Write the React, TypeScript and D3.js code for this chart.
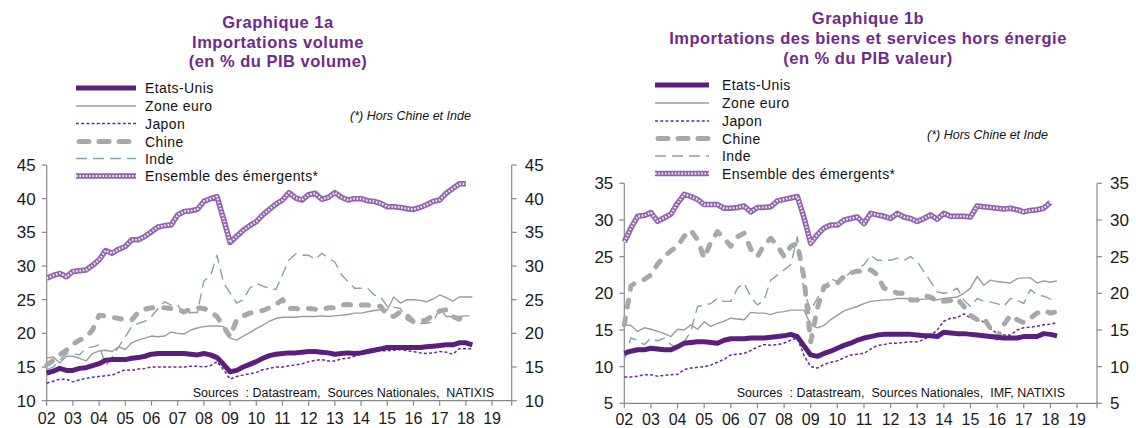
import { useEffect, useRef } from 'react';
import * as d3 from 'd3';

// ---- data (quarterly, first point = 2002 Q1) ----
const YEAR_LABELS = ['02', '03', '04', '05', '06', '07', '08', '09', '10', '11', '12', '13', '14', '15', '16', '17', '18', '19'];
const SERIES_NAMES = ['Etats-Unis', 'Zone euro', 'Japon', 'Chine', 'Inde', 'Ensemble des émergents*'];

// Graphique 1a : importations volume (% PIB volume)
const volUS = [14.1, 14.4, 14.8, 14.5, 14.5, 14.8, 14.9, 15.2, 15.5, 16.0, 16.1, 16.1, 16.1, 16.3, 16.4, 16.6, 16.9, 17.0, 17.0, 17.0, 17.0, 17.0, 16.9, 16.8, 17.0, 16.8, 16.4, 15.4, 14.3, 14.5, 15.0, 15.4, 15.8, 16.3, 16.7, 16.9, 17.0, 17.1, 17.1, 17.2, 17.3, 17.3, 17.2, 17.1, 16.9, 17.0, 17.1, 17.0, 17.1, 17.3, 17.5, 17.7, 17.9, 17.9, 17.9, 17.9, 17.9, 17.9, 18.0, 18.1, 18.2, 18.3, 18.3, 18.6, 18.6, 18.3];
const volEuro = [16.3, 16.5, 15.6, 16.6, 16.6, 16.3, 15.9, 17.0, 17.4, 17.5, 17.3, 18.0, 17.6, 18.6, 19.0, 19.3, 19.6, 19.5, 19.6, 20.2, 20.0, 19.9, 20.5, 20.8, 21.0, 21.1, 21.1, 21.0, 19.3, 19.0, 19.6, 20.1, 20.7, 21.2, 21.8, 22.2, 22.4, 22.4, 22.4, 22.5, 22.5, 22.5, 22.6, 22.5, 22.6, 22.7, 22.8, 23.0, 23.0, 23.2, 23.4, 23.5, 23.5, 25.4, 24.5, 25.0, 25.0, 24.9, 24.7, 25.1, 25.7, 25.3, 24.8, 25.4, 25.4, 25.4];
const volJapon = [12.6, 12.9, 13.2, 13.2, 12.8, 13.1, 13.3, 13.5, 13.6, 13.7, 13.8, 14.2, 14.6, 14.5, 14.7, 14.8, 15.0, 15.0, 15.0, 15.0, 15.0, 15.0, 15.1, 15.1, 15.0, 15.2, 15.8, 14.6, 13.2, 13.6, 13.8, 14.0, 14.2, 14.6, 14.8, 15.0, 15.0, 15.2, 15.3, 15.5, 15.8, 16.0, 16.1, 15.9, 15.9, 16.2, 16.3, 16.6, 16.9, 17.2, 17.5, 17.4, 17.4, 17.5, 17.6, 17.4, 17.3, 17.1, 17.0, 17.1, 17.3, 17.2, 16.9, 17.7, 17.7, 17.7];
const volChine = [15.3, 16.0, 16.8, 17.5, 18.4, 19.0, 19.4, 20.5, 22.7, 22.6, 22.4, 22.2, 22.0, 22.0, 23.2, 23.6, 23.8, 23.8, 23.8, 23.7, 23.5, 23.2, 23.6, 23.8, 23.7, 23.2, 22.5, 21.0, 19.5, 22.0, 22.6, 23.0, 23.2, 23.4, 23.8, 24.3, 25.0, 23.7, 23.7, 23.6, 23.7, 23.6, 23.5, 23.8, 23.8, 24.2, 24.3, 24.2, 24.2, 24.2, 24.1, 24.0, 22.7, 22.5, 23.2, 22.7, 21.7, 21.8, 22.0, 22.7, 23.3, 23.5, 22.5, 22.1, 23.5];
const volInde = [14.6, 15.0, 16.0, 17.0, 17.0, 16.8, 17.8, 18.0, 18.3, 15.2, 16.5, 18.0, 19.5, 21.0, 21.5, 21.8, 22.5, 23.7, 24.7, 24.2, 24.2, 22.7, 23.1, 23.1, 27.8, 28.5, 31.6, 27.5, 26.0, 24.5, 25.0, 26.7, 27.4, 27.0, 26.7, 26.5, 28.7, 30.9, 31.8, 31.6, 31.6, 31.0, 31.9, 31.2, 30.6, 28.7, 27.7, 26.7, 26.7, 26.7, 25.7, 25.4, 24.0, 23.9, 23.7, 22.0, 21.5, 21.5, 21.5, 21.7, 23.7, 22.5, 22.5, 22.5, 22.6, 22.6];
const volEmergents = [28.2, 28.6, 28.9, 28.4, 29.2, 29.3, 29.4, 30.1, 30.9, 32.3, 31.9, 32.5, 32.9, 33.9, 33.9, 34.4, 35.1, 35.8, 36.0, 36.1, 37.6, 38.1, 38.2, 38.4, 39.6, 40.0, 40.3, 37.0, 33.5, 34.4, 35.3, 36.0, 36.6, 37.6, 38.4, 39.2, 39.8, 40.9, 40.1, 39.8, 40.6, 40.8, 39.9, 40.2, 40.9, 40.2, 39.8, 40.0, 40.0, 39.7, 39.6, 39.3, 38.8, 38.8, 38.7, 38.5, 38.4, 38.7, 39.1, 39.6, 39.8, 40.8, 41.5, 42.2, 42.2];

// Graphique 1b : biens et services hors énergie (% PIB valeur)
const valUS = [11.8, 12.1, 12.3, 12.3, 12.5, 12.4, 12.3, 12.3, 12.7, 13.2, 13.3, 13.4, 13.4, 13.3, 13.2, 13.6, 13.8, 13.8, 13.8, 13.9, 13.9, 13.9, 14.0, 14.1, 14.2, 14.4, 14.1, 12.8, 11.6, 11.4, 11.8, 12.1, 12.5, 12.9, 13.2, 13.6, 13.9, 14.1, 14.3, 14.4, 14.4, 14.4, 14.4, 14.4, 14.3, 14.2, 14.2, 14.1, 14.7, 14.6, 14.5, 14.5, 14.4, 14.3, 14.2, 14.1, 14.0, 13.9, 13.9, 13.9, 14.1, 14.1, 14.1, 14.5, 14.4, 14.2];
const valEuro = [15.7, 15.6, 14.8, 15.3, 15.1, 14.8, 14.5, 14.1, 15.1, 15.0, 15.7, 15.1, 16.1, 15.5, 15.9, 16.2, 16.6, 16.5, 16.4, 17.4, 17.3, 17.3, 17.1, 17.4, 17.5, 17.7, 17.7, 17.7, 15.7, 15.3, 15.6, 16.4, 17.0, 17.6, 17.9, 18.2, 18.6, 18.9, 19.0, 19.1, 19.1, 19.3, 19.3, 19.3, 19.1, 19.2, 19.2, 19.1, 19.3, 19.4, 19.5, 20.0, 20.7, 22.3, 21.1, 21.8, 21.6, 21.5, 21.4, 22.0, 22.1, 22.1, 21.4, 21.7, 21.5, 21.7];
const valJapon = [8.6, 8.6, 8.7, 8.9, 8.9, 8.7, 8.8, 8.9, 8.95, 9.6, 9.8, 9.9, 10.0, 10.2, 10.6, 11.0, 11.6, 11.7, 11.8, 12.2, 12.7, 13.0, 12.9, 13.0, 13.2, 13.6, 13.9, 11.5, 10.0, 9.8, 10.3, 10.6, 10.8, 11.2, 11.6, 11.7, 11.8, 12.4, 12.9, 13.0, 13.2, 13.2, 13.3, 13.4, 13.4, 13.7, 14.2, 15.0, 16.2, 16.6, 16.7, 17.2, 16.6, 16.4, 16.1, 15.2, 14.5, 14.3, 14.3, 15.0, 15.3, 15.4, 15.5, 15.7, 15.8, 16.0];
const valChine = [15.7, 21.0, 21.6, 21.9, 22.5, 24.0, 25.0, 25.8, 26.4, 27.8, 28.6, 27.3, 24.8, 27.0, 28.4, 27.5, 26.4, 27.7, 28.2, 26.0, 25.0, 26.6, 27.5, 26.5, 25.0, 26.4, 26.8, 22.0, 13.4, 18.0, 20.9, 21.2, 21.4, 22.3, 22.8, 23.0, 23.0, 23.2, 22.5, 20.7, 20.5, 20.0, 20.0, 19.1, 19.1, 19.7, 19.5, 18.9, 18.9, 19.0, 19.3, 18.2, 17.0, 16.4, 16.6, 15.2, 13.9, 15.7, 17.0, 16.4, 16.0, 16.6, 17.3, 17.7, 17.3, 17.5, 17.4];
const valInde = [11.0, 13.9, 13.6, 13.0, 13.9, 13.5, 13.9, 13.0, 12.5, 13.4, 14.8, 18.2, 18.4, 18.6, 19.3, 18.9, 18.9, 20.7, 21.4, 19.5, 18.4, 19.1, 21.8, 22.5, 23.2, 23.9, 27.7, 20.2, 17.7, 19.3, 20.7, 22.0, 21.6, 22.0, 22.9, 23.3, 23.9, 25.2, 24.5, 24.5, 24.5, 24.8, 24.5, 25.0, 24.3, 23.0, 21.6, 20.2, 20.0, 20.2, 20.7, 19.1, 18.2, 19.3, 18.9, 18.8, 18.6, 18.2, 19.3, 19.1, 18.6, 20.5, 19.8, 19.6, 19.2, 19.2];
const valEmergents = [27.0, 28.9, 30.5, 30.6, 31.0, 29.8, 30.3, 30.8, 32.3, 33.5, 33.2, 32.8, 32.1, 32.1, 32.1, 31.6, 31.6, 31.7, 31.9, 31.1, 31.7, 31.7, 31.8, 32.6, 32.8, 33.0, 33.2, 30.3, 26.8, 28.0, 28.9, 29.3, 29.3, 30.0, 30.2, 30.4, 29.5, 30.9, 30.7, 30.5, 30.2, 30.9, 30.4, 30.2, 29.8, 30.2, 30.7, 30.1, 30.9, 30.5, 30.5, 30.5, 30.4, 31.9, 31.8, 31.7, 31.6, 31.5, 31.6, 31.4, 31.1, 31.3, 31.4, 31.6, 32.4];

const volTicks = [10, 15, 20, 25, 30, 35, 40, 45];
const valTicks = [5, 10, 15, 20, 25, 30, 35];

// ---- styles ----
const PURPLE = '#6F2A8C';
const AXIS = '#888888';
const FONT = '"Liberation Sans", Arial, sans-serif';

type Style = { color: string; width: number; dash?: string; cap?: string; chain?: boolean };
const STYLES: Style[] = [
  { color: '#5B1E7C', width: 5 },
  { color: '#9B9B9B', width: 1.4 },
  { color: '#6A2A8E', width: 1.5, dash: '3 2.2' },
  { color: '#A8A8A8', width: 5, dash: '7 11', cap: 'round' },
  { color: '#7FA3B7', width: 1.4, dash: '11 6' },
  { color: '#9263AE', width: 5.5, chain: true },
];

type ChartCfg = {
  series: number[][];
  yDomain: [number, number];
  yTicks: number[];
  x0: number; x1: number; yTop: number; yBot: number;
  title: string[]; titleX: number; titleY: number[];
  legX0: number; legX1: number; legTextX: number; legY: number[];
  noteX: number; noteY: number;
  source: string; sourceX: number; sourceY: number;
  xLabelY: number;
};

const CHARTS: ChartCfg[] = [
  {
    series: [volUS, volEuro, volJapon, volChine, volInde, volEmergents],
    yDomain: [10, 45], yTicks: volTicks,
    x0: 46.7, x1: 511.7, yTop: 165, yBot: 400.7,
    title: ['Graphique 1a', 'Importations volume', '(en % du PIB volume)'],
    titleX: 278, titleY: [28, 47.5, 67],
    legX0: 76, legX1: 136, legTextX: 145, legY: [88, 106, 123.5, 141.5, 158.5, 176],
    noteX: 350, noteY: 120,
    source: 'Sources  : Datastream,  Sources Nationales,  NATIXIS', sourceX: 494, sourceY: 397,
    xLabelY: 424,
  },
  {
    series: [valUS, valEuro, valJapon, valChine, valInde, valEmergents],
    yDomain: [5, 35], yTicks: valTicks,
    x0: 624.3, x1: 1097, yTop: 183.3, yBot: 403.3,
    title: ['Graphique 1b', 'Importations des biens et services hors énergie', '(en % du PIB valeur)'],
    titleX: 868, titleY: [24, 44, 64],
    legX0: 655, legX1: 709, legTextX: 722, legY: [85, 103, 121, 138.5, 156, 173.5],
    noteX: 927, noteY: 139,
    source: 'Sources  : Datastream,  Sources Nationales,  IMF, NATIXIS', sourceX: 1065, sourceY: 397,
    xLabelY: 425,
  },
];

function strokePath(sel: d3.Selection<SVGPathElement, unknown, null, undefined>, s: Style) {
  sel.attr('fill', 'none')
    .attr('stroke', s.color)
    .attr('stroke-width', s.width)
    .attr('stroke-linejoin', 'round')
    .attr('stroke-linecap', s.cap ?? 'butt');
  if (s.dash) sel.attr('stroke-dasharray', s.dash);
}

function drawChart(svg: d3.Selection<SVGSVGElement, unknown, null, undefined>, c: ChartCfg) {
  const g = svg.append('g');
  const x = d3.scaleLinear().domain([2002, 2019.75]).range([c.x0, c.x1]);
  const y = d3.scaleLinear().domain(c.yDomain).range([c.yBot, c.yTop]);

  // title
  c.title.forEach((t, i) => {
    g.append('text').attr('x', c.titleX).attr('y', c.titleY[i])
      .attr('text-anchor', 'middle').attr('font-family', FONT).attr('font-weight', 'bold')
      .attr('font-size', 16.5).attr('letter-spacing', 0.5).attr('fill', PURPLE).text(t);
  });

  // axes
  const axisG = g.append('g').attr('stroke', AXIS).attr('stroke-width', 1.2);
  axisG.append('line').attr('x1', c.x0).attr('x2', c.x0).attr('y1', c.yTop).attr('y2', c.yBot);
  axisG.append('line').attr('x1', c.x1).attr('x2', c.x1).attr('y1', c.yTop).attr('y2', c.yBot);
  axisG.append('line').attr('x1', c.x0).attr('x2', c.x1).attr('y1', c.yBot).attr('y2', c.yBot);
  c.yTicks.forEach((v) => {
    axisG.append('line').attr('x1', c.x0 - 5).attr('x2', c.x0).attr('y1', y(v)).attr('y2', y(v));
    axisG.append('line').attr('x1', c.x1).attr('x2', c.x1 + 5).attr('y1', y(v)).attr('y2', y(v));
    g.append('text').attr('x', c.x0 - 11).attr('y', y(v) + 6).attr('text-anchor', 'end')
      .attr('font-family', FONT).attr('font-size', 17).attr('fill', '#1a1a1a').text(String(v));
    g.append('text').attr('x', c.x1 + 13).attr('y', y(v) + 6).attr('text-anchor', 'start')
      .attr('font-family', FONT).attr('font-size', 17).attr('fill', '#1a1a1a').text(String(v));
  });
  YEAR_LABELS.forEach((lab, i) => {
    const xx = x(2002 + i);
    axisG.append('line').attr('x1', xx).attr('x2', xx).attr('y1', c.yBot).attr('y2', c.yBot + 5);
    g.append('text').attr('x', xx).attr('y', c.xLabelY).attr('text-anchor', 'middle')
      .attr('font-family', FONT).attr('font-size', 16).attr('fill', '#1a1a1a').text(lab);
  });
  axisG.append('line').attr('x1', c.x1).attr('x2', c.x1).attr('y1', c.yBot).attr('y2', c.yBot + 5);

  // series
  const line = d3.line<number>().x((_, i) => x(2002 + i / 4)).y((v) => y(v));
  const order = [1, 2, 4, 3, 0, 5];
  order.forEach((k) => {
    const s = STYLES[k];
    const p = g.append('path').attr('d', line(c.series[k]) ?? '');
    strokePath(p, s);
    if (s.chain) {
      const q = g.append('path').attr('d', line(c.series[k]) ?? '');
      strokePath(q, { color: '#F4ECF8', width: 2.2, dash: '1.6 1.7' });
    }
  });

  // legend
  SERIES_NAMES.forEach((name, i) => {
    const s = STYLES[i];
    const ly = c.legY[i];
    const lp = g.append('path').attr('d', `M${c.legX0},${ly}L${c.legX1},${ly}`);
    strokePath(lp, s);
    if (s.cap === 'round') lp.attr('stroke-dasharray', '10 10').attr('stroke-dashoffset', -3);
    if (s.chain) {
      const lq = g.append('path').attr('d', `M${c.legX0},${ly}L${c.legX1},${ly}`);
      strokePath(lq, { color: '#F4ECF8', width: 2.2, dash: '1.6 1.7' });
    }
    g.append('text').attr('x', c.legTextX).attr('y', ly + 5)
      .attr('font-family', FONT).attr('font-size', 14).attr('letter-spacing', 0.4)
      .attr('fill', '#111').text(name);
  });

  // notes
  g.append('text').attr('x', c.noteX).attr('y', c.noteY)
    .attr('font-family', FONT).attr('font-style', 'italic').attr('font-size', 12.5)
    .attr('fill', '#111').text('(*) Hors Chine et Inde');
  g.append('text').attr('x', c.sourceX).attr('y', c.sourceY).attr('text-anchor', 'end')
    .attr('font-family', FONT).attr('font-size', 12.5).attr('fill', '#111')
    .style('white-space', 'pre').text(c.source);
}

export default function App() {
  const svgRef = useRef<SVGSVGElement>(null);

  useEffect(() => {
    if (!svgRef.current) return;
    const svg = d3.select(svgRef.current);
    svg.selectAll('*').remove();
    svg.append('rect').attr('width', 1136).attr('height', 428).attr('fill', '#fff');
    CHARTS.forEach((c) => drawChart(svg, c));
  }, []);

  return (
    <svg
      ref={svgRef}
      width={1136}
      height={428}
      viewBox="0 0 1136 428"
      style={{ position: 'absolute', left: 0, top: 0, display: 'block' }}
      role="img"
      aria-label="Importations en % du PIB"
    />
  );
}
